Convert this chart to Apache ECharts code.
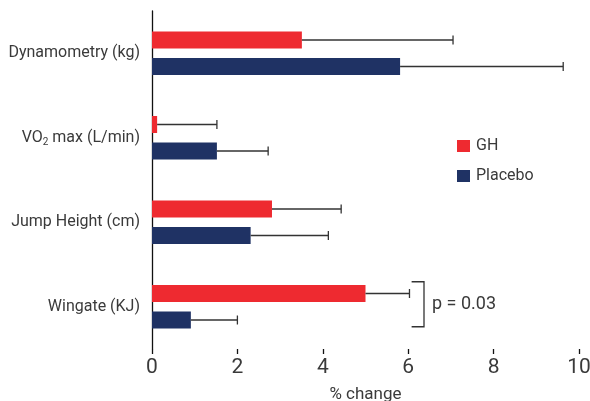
<!DOCTYPE html>
<html style="height: 100%">
<head>
  <meta charset="utf-8">
  <title>GH vs Placebo % change</title>
  <script src="https://cdn.jsdelivr.net/npm/echarts@6/dist/echarts.min.js"></script>
</head>
<body style="height: 100%; margin: 0; background: #fff">
<div id="main" style="width: 590px; height: 401px;"></div>
<script type="text/javascript">
// data
var categories = ['Dynamometry (kg)', 'VO2 max (L/min)', 'Jump Height (cm)', 'Wingate (KJ)'];
var ghMean = [3.51, 0.12, 2.81, 5.0];
var ghErr = [3.54, 1.40, 1.62, 1.03];
var placeboMean = [5.81, 1.52, 2.31, 0.91];
var placeboErr = [3.82, 1.20, 1.82, 1.09];
var xTicks = [0, 2, 4, 6, 8, 10];
var pLabel = 'p = 0.03';

var FONT = "Roboto, 'Liberation Sans', sans-serif";
var RED = '#ee2a30';
var NAVY = '#1f3264';
var TXT = '#3a3a3a';
var BAR_W = 17;
var OFFSET = 13.25; // half of (bar + gap), px

function errData(mean, err) {
  return mean.map(function (m, i) { return [m, m + err[i], i]; });
}

function errRender(dir) {
  return function (params, api) {
    var c = api.value(2);
    var p0 = api.coord([api.value(0), c]);
    var p1 = api.coord([api.value(1), c]);
    var y = p0[1] + dir * OFFSET;
    var st = { stroke: '#333', lineWidth: 1.3 };
    return {
      type: 'group',
      children: [
        { type: 'line', shape: { x1: p0[0], y1: y, x2: p1[0], y2: y }, style: st },
        { type: 'line', shape: { x1: p1[0], y1: y - 4.5, x2: p1[0], y2: y + 4.5 }, style: st }
      ]
    };
  };
}

var dom = document.getElementById('main');
var myChart = echarts.init(dom);

var option = {
  animation: false,
  textStyle: { fontFamily: FONT },
  grid: { left: 152, right: 11, top: 11, bottom: 52, containLabel: false, outerBoundsMode: 'none' },
  legend: {
    data: ['GH', 'Placebo'],
    orient: 'vertical',
    left: 452,
    top: 133,
    icon: 'rect',
    itemWidth: 13,
    itemHeight: 12,
    itemGap: 14,
    textStyle: { fontFamily: FONT, fontSize: 16, color: TXT, padding: [0, 0, 0, 1] }
  },
  xAxis: {
    type: 'value',
    min: 0,
    max: 10,
    interval: 2,
    name: '% change',
    nameLocation: 'middle',
    nameGap: 37,
    nameTextStyle: { fontFamily: FONT, fontSize: 17, color: TXT },
    axisLine: { lineStyle: { color: '#111', width: 1.3 } },
    axisTick: { show: true, length: 5, lineStyle: { color: '#111', width: 1.3 } },
    splitLine: { show: false },
    axisLabel: {
      fontFamily: FONT, fontSize: 21, color: TXT, margin: 8,
      formatter: function (v) { return xTicks.indexOf(v) >= 0 ? String(v) : ''; }
    }
  },
  yAxis: {
    type: 'category',
    inverse: true,
    data: categories,
    axisLine: { lineStyle: { color: '#111', width: 1.3 } },
    axisTick: { show: false },
    axisLabel: {
      margin: 12,
      formatter: function (v) {
        if (v.indexOf('VO2') === 0) {
          return '{a|VO}{s|2}{a|' + v.slice(3) + '}';
        }
        return '{a|' + v + '}';
      },
      rich: {
        a: { fontFamily: FONT, fontSize: 16, color: TXT, lineHeight: 20 },
        s: { fontFamily: FONT, fontSize: 10, color: TXT, lineHeight: 10, verticalAlign: 'bottom' }
      }
    }
  },
  series: [
    {
      name: 'GH',
      type: 'bar',
      data: ghMean,
      barWidth: BAR_W,
      barGap: '56%',
      itemStyle: { color: RED }
    },
    {
      name: 'Placebo',
      type: 'bar',
      data: placeboMean,
      barWidth: BAR_W,
      barGap: '56%',
      itemStyle: { color: NAVY }
    },
    {
      type: 'custom',
      renderItem: errRender(-1),
      encode: { x: [0, 1], y: 2 },
      data: errData(ghMean, ghErr),
      z: 3
    },
    {
      type: 'custom',
      renderItem: errRender(1),
      encode: { x: [0, 1], y: 2 },
      data: errData(placeboMean, placeboErr),
      z: 3
    },
    {
      // significance bracket for Wingate
      type: 'custom',
      encode: { x: [0, 1], y: 2 },
      data: [[6.08, 6.37, 3]],
      renderItem: function (params, api) {
        var a = api.coord([api.value(0), api.value(2)]);
        var b = api.coord([api.value(1), api.value(2)]);
        var top = a[1] - 25, bot = a[1] + 20;
        var st = { stroke: '#333', lineWidth: 1.3, fill: null };
        return {
          type: 'group',
          children: [
            { type: 'polyline', shape: { points: [[a[0], top], [b[0], top], [b[0], bot], [a[0], bot]] }, style: st },
            { type: 'text', x: b[0] + 8, y: a[1] - 2,
              style: { text: pLabel, fontFamily: FONT, fontSize: 18, fill: TXT, verticalAlign: 'middle', align: 'left' } }
          ]
        };
      }
    }
  ]
};
myChart.setOption(option, true);
</script>
</body>
</html>
